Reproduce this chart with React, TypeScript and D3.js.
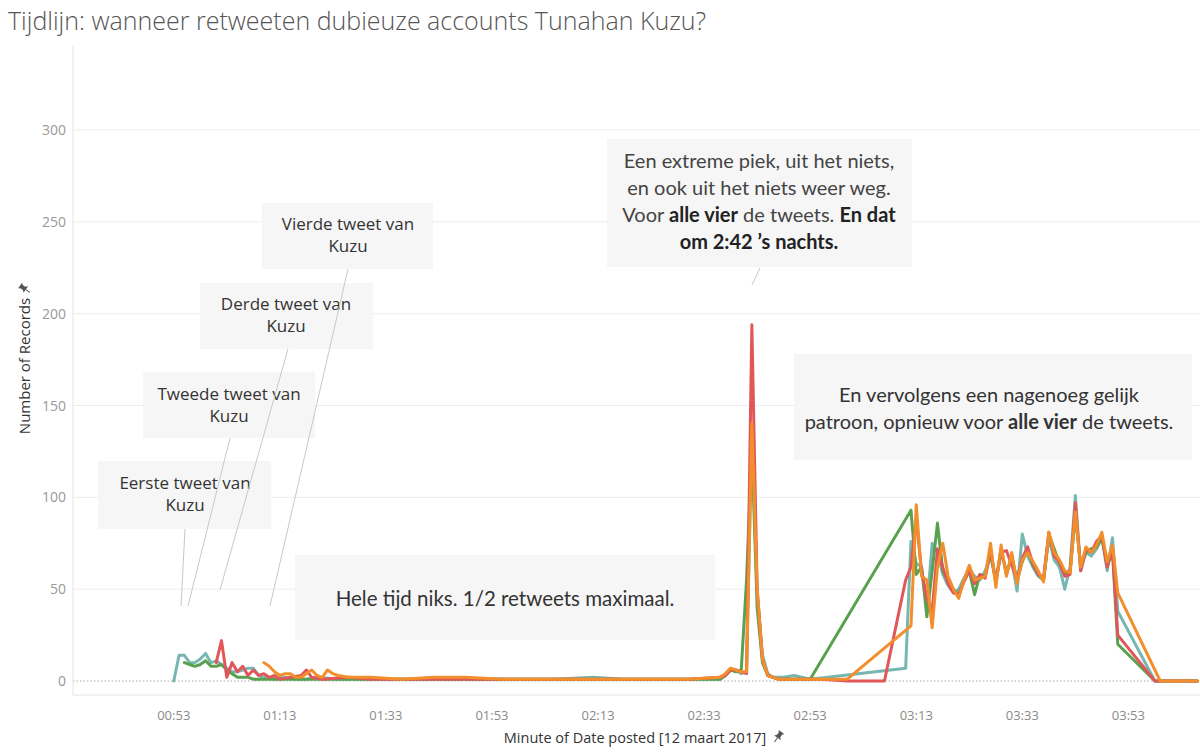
import React from "react";
import * as d3 from "d3";

const W = 1200;
const H = 755;

// ---------- data ----------
const xTickLabels = ["00:53", "01:13", "01:33", "01:53", "02:13", "02:33", "02:53", "03:13", "03:33", "03:53"];
const yTickValues = [0, 50, 100, 150, 200, 250, 300];

const plateauMinutes = [
  "03:13", "03:14", "03:15", "03:16", "03:17", "03:18", "03:19", "03:20", "03:21", "03:22",
  "03:23", "03:24", "03:25", "03:26", "03:27", "03:28", "03:29", "03:30", "03:31", "03:32",
  "03:33", "03:34", "03:35", "03:36", "03:37", "03:38", "03:39", "03:40", "03:41", "03:42",
  "03:43", "03:44", "03:45", "03:46", "03:47", "03:48", "03:49", "03:50", "03:51",
];

// Eerste tweet (teal)
const tweet1Lead: [string, number][] = [
  ["00:53", 0], ["00:54", 14], ["00:55", 14], ["00:56", 10], ["00:57", 10], ["00:58", 12], ["00:59", 15],
  ["01:00", 10], ["01:01", 11], ["01:02", 9], ["01:03", 7], ["01:04", 5], ["01:05", 5], ["01:06", 6],
  ["01:07", 7], ["01:08", 7], ["01:09", 3], ["01:10", 2], ["01:11", 2], ["01:12", 1], ["01:14", 2],
  ["01:16", 1], ["01:18", 1], ["01:20", 2], ["01:24", 1], ["01:30", 1], ["01:36", 1], ["01:42", 1],
  ["01:50", 1], ["01:58", 1], ["02:05", 1], ["02:12", 2], ["02:18", 1], ["02:25", 1], ["02:32", 1],
  ["02:36", 1], ["02:37", 3], ["02:38", 6], ["02:39", 6], ["02:40", 4], ["02:41", 5], ["02:42", 135],
  ["02:43", 48], ["02:44", 14], ["02:45", 4], ["02:46", 2], ["02:48", 2], ["02:50", 3], ["02:53", 1],
  ["03:11", 7], ["03:12", 76],
];
const tweet1Plateau = [64, 62, 40, 75, 70, 58, 52, 48, 50, 56, 61, 57, 55, 60, 68, 55, 70, 60, 66, 49, 80, 68, 62, 57, 55, 78, 66, 62, 50, 62, 101, 60, 70, 68, 72, 78, 60, 78, 38];
const tweet1Tail: [string, number][] = [["03:58", 0], ["04:06", 0]];

// Tweede tweet (green)
const tweet2Lead: [string, number][] = [
  ["00:55", 10], ["00:56", 9], ["00:57", 8], ["00:58", 9], ["00:59", 11], ["01:00", 8], ["01:01", 8],
  ["01:02", 9], ["01:03", 6], ["01:04", 4], ["01:05", 2], ["01:06", 2], ["01:07", 2], ["01:08", 1],
  ["01:10", 1], ["01:13", 1], ["01:17", 1], ["01:22", 1], ["01:30", 1], ["01:40", 1], ["01:50", 1],
  ["02:00", 1], ["02:10", 1], ["02:20", 1], ["02:30", 1], ["02:36", 1], ["02:37", 3], ["02:38", 6],
  ["02:39", 5], ["02:40", 6], ["02:41", 55], ["02:42", 128], ["02:43", 40], ["02:44", 10], ["02:45", 3],
  ["02:47", 1], ["02:50", 1], ["02:53", 1], ["03:12", 93],
];
const tweet2Plateau = [58, 62, 35, 60, 86, 60, 54, 50, 47, 55, 60, 47, 58, 57, 70, 54, 72, 58, 68, 55, 65, 72, 63, 58, 55, 80, 72, 64, 58, 60, 90, 63, 70, 72, 73, 78, 63, 70, 20];
const tweet2Tail: [string, number][] = [["03:58", 0], ["04:06", 0]];

// Derde tweet (red)
const tweet3Lead: [string, number][] = [
  ["01:01", 10], ["01:02", 22], ["01:03", 2], ["01:04", 10], ["01:05", 5], ["01:06", 8], ["01:07", 3],
  ["01:08", 6], ["01:09", 3], ["01:10", 4], ["01:11", 2], ["01:12", 3], ["01:13", 1], ["01:15", 2],
  ["01:17", 3], ["01:18", 6], ["01:19", 2], ["01:21", 1], ["01:26", 2], ["01:30", 1], ["01:40", 1],
  ["01:50", 1], ["02:00", 1], ["02:10", 1], ["02:20", 1], ["02:30", 1], ["02:36", 2], ["02:37", 3],
  ["02:38", 6], ["02:39", 6], ["02:40", 5], ["02:41", 4], ["02:42", 194], ["02:43", 50], ["02:44", 12],
  ["02:45", 3], ["02:47", 1], ["02:50", 1], ["02:55", 1], ["03:00", 0], ["03:07", 0], ["03:11", 55],
  ["03:12", 62],
];
const tweet3Plateau = [88, 60, 45, 38, 72, 62, 53, 48, 47, 54, 60, 53, 58, 56, 72, 54, 70, 71, 63, 55, 67, 73, 64, 58, 56, 81, 68, 65, 57, 58, 97, 60, 72, 70, 76, 79, 62, 72, 25];
const tweet3Tail: [string, number][] = [["03:58", 0], ["04:06", 0]];

// Vierde tweet (orange)
const tweet4Lead: [string, number][] = [
  ["01:10", 10], ["01:11", 8], ["01:12", 5], ["01:13", 3], ["01:14", 4], ["01:15", 4], ["01:16", 2],
  ["01:17", 2], ["01:18", 4], ["01:19", 6], ["01:20", 3], ["01:21", 2], ["01:22", 6], ["01:23", 4],
  ["01:24", 3], ["01:26", 2], ["01:30", 2], ["01:36", 1], ["01:42", 2], ["01:48", 2], ["01:55", 1],
  ["02:02", 1], ["02:10", 1], ["02:20", 1], ["02:30", 1], ["02:36", 2], ["02:37", 4], ["02:38", 7],
  ["02:39", 6], ["02:40", 5], ["02:41", 5], ["02:42", 140], ["02:43", 50], ["02:44", 12], ["02:45", 3],
  ["02:47", 1], ["02:52", 1], ["03:00", 1], ["03:12", 30],
];
const tweet4Plateau = [96, 57, 55, 29, 62, 75, 57, 50, 45, 55, 63, 55, 56, 57, 75, 51, 74, 57, 70, 53, 66, 70, 65, 60, 54, 81, 70, 66, 60, 59, 92, 62, 73, 70, 74, 81, 65, 74, 48];
const tweet4Tail: [string, number][] = [["03:59", 0], ["04:06", 0]];

const seriesNames = ["Eerste tweet", "Tweede tweet", "Derde tweet", "Vierde tweet"];
const seriesColors = ["#76b7b2", "#59a14f", "#e15759", "#f28e2b"];

// ---------- helpers ----------
const parseT = d3.timeParse("%H:%M");

function buildSeries(lead: [string, number][], plateau: number[], tail: [string, number][]) {
  const pts: { t: Date; v: number }[] = [];
  lead.forEach(([s, v]) => pts.push({ t: parseT(s) as Date, v }));
  plateau.forEach((v, i) => pts.push({ t: parseT(plateauMinutes[i]) as Date, v }));
  tail.forEach(([s, v]) => pts.push({ t: parseT(s) as Date, v }));
  return pts;
}

const allSeries = [
  buildSeries(tweet1Lead, tweet1Plateau, tweet1Tail),
  buildSeries(tweet2Lead, tweet2Plateau, tweet2Tail),
  buildSeries(tweet3Lead, tweet3Plateau, tweet3Tail),
  buildSeries(tweet4Lead, tweet4Plateau, tweet4Tail),
];

const plotLeft = 73;
const plotRight = 1200;
const plotTop = 45;
const plotBottom = 695;

const x = d3
  .scaleTime()
  .domain([new Date(1900, 0, 1, 0, 34, 0), new Date(1900, 0, 1, 4, 6, 30)])
  .range([plotLeft, plotRight]);
const y = d3.scaleLinear().domain([0, 300]).range([681, 130]);

const line = d3
  .line<{ t: Date; v: number }>()
  .x((d) => x(d.t))
  .y((d) => y(d.v));

const fmt = d3.timeFormat("%H:%M");

function Pin({ cx, cy, rot }: { cx: number; cy: number; rot: number }) {
  return (
    <g transform={`translate(${cx},${cy}) rotate(${rot})`} fill="#555">
      <path d="M-3,-6 h6 v1.2 h-1 v3.6 l2,2.2 h-8 l2,-2.2 v-3.6 h-1 z" />
      <rect x={-0.5} y={1} width={1} height={5} />
    </g>
  );
}

const annFont = "Lato, 'Open Sans', sans-serif";
const tweetFont = "'Open Sans', sans-serif";

type Callout = { label: string; box: [number, number, number, number]; cx: number; b1: number; from: [number, number]; to: [number, number] };
const tweetCallouts: Callout[] = [
  { label: "Eerste tweet van", box: [98, 461, 173, 68], cx: 185, b1: 489, from: [185, 529], to: [181, 606] },
  { label: "Tweede tweet van", box: [143, 372, 172, 66], cx: 229, b1: 400, from: [230, 438], to: [188, 606] },
  { label: "Derde tweet van", box: [200, 283, 173, 66], cx: 286, b1: 310, from: [288, 349], to: [220, 590] },
  { label: "Vierde tweet van", box: [262, 203, 171, 66], cx: 348, b1: 230, from: [348, 269], to: [270, 606] },
];

export default function App() {
  const xTicks = xTickLabels.map((s) => parseT(s) as Date);
  return (
    <svg width={W} height={H} style={{ position: "absolute", left: 0, top: 0, background: "#fff" }}>
      {/* title */}
      <text x={8} y={30} fontFamily="'Open Sans', sans-serif" fontSize={25} fontWeight={300} fill="#555">
        Tijdlijn: wanneer retweeten dubieuze accounts Tunahan Kuzu?
      </text>

      {/* gridlines */}
      {yTickValues.filter((v) => v > 0).map((v) => (
        <line key={v} x1={plotLeft} x2={plotRight} y1={y(v)} y2={y(v)} stroke="#ececec" strokeWidth={1} />
      ))}
      <line x1={plotLeft} x2={plotRight} y1={y(0)} y2={y(0)} stroke="#aaa" strokeWidth={1} strokeDasharray="1.5,2" />
      <line x1={plotLeft} x2={plotLeft} y1={plotTop} y2={plotBottom} stroke="#e4e4e4" />
      <line x1={plotLeft} x2={plotRight} y1={plotBottom} y2={plotBottom} stroke="#e4e4e4" />

      {/* y ticks */}
      {yTickValues.map((v) => (
        <text key={v} x={66} y={y(v) + 5} textAnchor="end" fontFamily="'Open Sans', sans-serif" fontSize={14} fill="#999">
          {v}
        </text>
      ))}
      {/* x ticks */}
      {xTicks.map((t, i) => (
        <text key={i} x={x(t)} y={720} textAnchor="middle" fontFamily="'Open Sans', sans-serif" fontSize={13} fill="#8a8a8a">
          {fmt(t)}
        </text>
      ))}

      {/* axis titles */}
      <text x={635} y={743} textAnchor="middle" fontFamily="'Open Sans', sans-serif" fontSize={14.5} fill="#333">
        Minute of Date posted [12 maart 2017]
      </text>
      <Pin cx={778} cy={737} rot={35} />
      <text transform="translate(30,366) rotate(-90)" textAnchor="middle" fontFamily="'Open Sans', sans-serif" fontSize={15} fill="#333">
        Number of Records
      </text>
      <Pin cx={25} cy={289} rot={-55} />

      {/* annotation boxes (behind lines) */}
      {tweetCallouts.map((c, i) => (
        <g key={i}>
          <rect x={c.box[0]} y={c.box[1]} width={c.box[2]} height={c.box[3]} fill="#f6f6f6" />
        </g>
      ))}
      <rect x={295} y={555} width={420} height={85} fill="#f6f6f6" />
      <rect x={607} y={139} width={305} height={128} fill="#f6f6f6" />
      <rect x={794} y={354} width={398} height={106} fill="#f6f6f6" />

      {/* callout text and pointers */}
      {tweetCallouts.map((c, i) => (
        <g key={i}>
          <line x1={c.from[0]} y1={c.from[1]} x2={c.to[0]} y2={c.to[1]} stroke="#c8c8c8" strokeWidth={1} />
          <text x={c.cx} y={c.b1} textAnchor="middle" fontFamily={tweetFont} fontSize={17} fill="#333">
            {c.label}
          </text>
          <text x={c.cx} y={c.b1 + 22} textAnchor="middle" fontFamily={tweetFont} fontSize={17} fill="#333">
            Kuzu
          </text>
        </g>
      ))}
      <line x1={760} y1={268} x2={752} y2={285} stroke="#c8c8c8" />

      {/* lines */}
      {allSeries.map((s, i) => (
        <path key={seriesNames[i]} d={line(s) || ""} fill="none" stroke={seriesColors[i]} strokeWidth={3} strokeLinejoin="round" strokeLinecap="round" />
      ))}

      {/* text annotations */}
      <text x={505} y={606} textAnchor="middle" fontFamily={annFont} fontSize={20.5} fill="#333">
        Hele tijd niks. 1/2 retweets maximaal.
      </text>
      <g fontFamily={annFont} fontSize={20} fill="#444" textAnchor="middle">
        <text x={759} y={168}>Een extreme piek, uit het niets,</text>
        <text x={759} y={195}>en ook uit het niets weer weg.</text>
        <text x={759} y={222}>
          Voor <tspan fontWeight="bold" fill="#222">alle vier</tspan> de tweets. <tspan fontWeight="bold" fill="#222">En dat</tspan>
        </text>
        <text x={759} y={249} fontWeight="bold" fill="#222">om 2:42 ’s nachts.</text>
      </g>
      <g fontFamily={annFont} fontSize={20} fill="#333" textAnchor="middle">
        <text x={989} y={402}>En vervolgens een nagenoeg gelijk</text>
        <text x={989} y={429}>
          patroon, opnieuw voor <tspan fontWeight="bold">alle vier</tspan> de tweets.
        </text>
      </g>
    </svg>
  );
}
